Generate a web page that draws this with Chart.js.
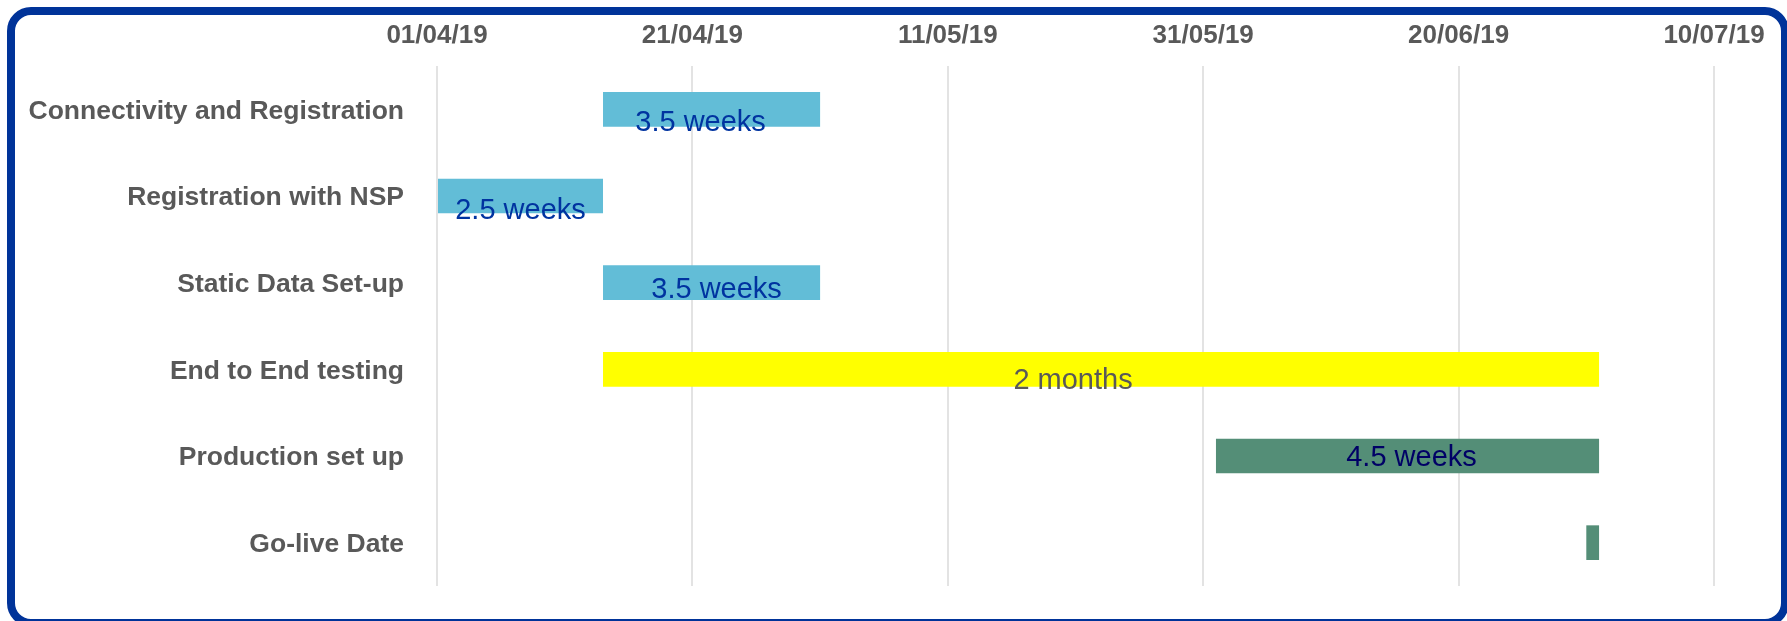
<!DOCTYPE html>
<html>
<head>
<meta charset="utf-8">
<script src="https://cdn.jsdelivr.net/npm/chart.js@4.4.1/dist/chart.umd.min.js"></script>
<style>
  html, body { margin: 0; padding: 0; background: #fff; overflow: hidden; }
  #wrap { position: relative; width: 1787px; height: 621px; }
  #frame {
    position: absolute; left: 7px; top: 7px; width: 1782px; height: 620px;
    box-sizing: border-box; border: 8px solid #003399; border-radius: 24px;
    pointer-events: none;
  }
</style>
</head>
<body>
<div id="wrap">
  <canvas id="gantt"></canvas>
  <div id="frame"></div>
</div>
<script>
const tasks = ['Connectivity and Registration', 'Registration with NSP', 'Static Data Set-up',
               'End to End testing', 'Production set up', 'Go-live Date'];
const startDates = ['2019-04-14', '2019-04-01', '2019-04-14', '2019-04-14', '2019-06-01', '2019-06-30'];
const endDates   = ['2019-05-01', '2019-04-14', '2019-05-01', '2019-07-01', '2019-07-01', '2019-07-01'];
const durationLabels = ['3.5 weeks', '2.5 weeks', '3.5 weeks', '2 months', '4.5 weeks', ''];
const axisStart = '2019-04-01';
const axisEnd = '2019-07-10';
const tickStepDays = 20;

const barColors = ['#62bdd7', '#62bdd7', '#62bdd7', '#ffff00', '#548e77', '#548e77'];
const labelColors = ['#0033a0', '#0033a0', '#0033a0', '#595959', '#000066', '#000066'];
// small nudges so the labels sit where they do in the original
const labelNudge = [[-11, 14], [0, 15], [5, 7], [-28, 12], [4, 2], [0, 0]];

const DAY = 86400000;
const toDays = s => (Date.parse(s) - Date.parse(axisStart)) / DAY;
const fmtDate = d => {
  const t = new Date(Date.parse(axisStart) + d * DAY);
  const p = n => String(n).padStart(2, '0');
  return p(t.getUTCDate()) + '/' + p(t.getUTCMonth() + 1) + '/' + p(t.getUTCFullYear() % 100);
};

const barLabels = {
  id: 'barLabels',
  afterDatasetsDraw(chart) {
    const ctx = chart.ctx;
    const meta = chart.getDatasetMeta(0);
    ctx.save();
    ctx.font = '29px "Liberation Sans", Arial, sans-serif';
    ctx.textAlign = 'center';
    ctx.textBaseline = 'middle';
    meta.data.forEach((bar, i) => {
      if (!durationLabels[i]) return;
      const cx = (bar.x + bar.base) / 2 + labelNudge[i][0];
      ctx.fillStyle = labelColors[i];
      ctx.fillText(durationLabels[i], cx, bar.y + labelNudge[i][1]);
    });
    ctx.restore();
  }
};

new Chart(document.getElementById('gantt'), {
  type: 'bar',
  data: {
    labels: tasks,
    datasets: [{
      data: tasks.map((t, i) => [toDays(startDates[i]), toDays(endDates[i])]),
      backgroundColor: barColors,
      borderWidth: 0,
      barPercentage: 0.4,
      categoryPercentage: 1
    }]
  },
  options: {
    indexAxis: 'y',
    responsive: true,
    maintainAspectRatio: false,
    animation: false,
    layout: { padding: { left: 0, right: 73, top: 0, bottom: 35 } },
    plugins: { legend: { display: false }, tooltip: { enabled: false } },
    scales: {
      x: {
        position: 'top',
        min: 0,
        max: toDays(axisEnd),
        afterFit: s => { s.height = 66; },
        ticks: {
          stepSize: tickStepDays,
          padding: 15,
          color: '#595959',
          font: { family: '"Liberation Sans", Arial, sans-serif', size: 26, weight: 'bold' },
          callback: v => fmtDate(v)
        },
        grid: { color: '#e3e3e3', lineWidth: 2, drawTicks: false },
        border: { display: false }
      },
      y: {
        // fixed label column, no extra half-label padding top/bottom
        afterFit: s => { s.width = 437; s.paddingTop = 0; s.paddingBottom = 0; },
        ticks: {
          padding: 33,
          labelOffset: 2,
          color: '#595959',
          font: { family: '"Liberation Sans", Arial, sans-serif', size: 26.5, weight: 'bold' }
        },
        grid: { display: false, drawTicks: false },
        border: { display: false }
      }
    }
  },
  plugins: [barLabels]
});
</script>
</body>
</html>
